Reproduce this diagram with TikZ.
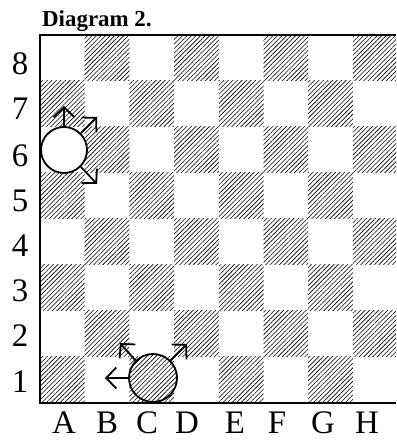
\documentclass[tikz,border=0pt]{standalone}
\usepackage{fontspec}
\setmainfont{Liberation Serif}
\usetikzlibrary{patterns.meta,arrows.meta}
\begin{document}
\begin{tikzpicture}[x=1bp,y=1bp,
  hatch/.style={pattern={Lines[angle=45,distance=3.2bp,line width=0.6bp]}},
  piece/.style={circle,draw,line width=1.8bp,minimum size=46bp,inner sep=0pt,fill=white},
  bpiece/.style={circle,draw,line width=1.8bp,minimum size=48bp,inner sep=0pt,preaction={fill=white},hatch},
  mv/.style={line width=1.8bp,-{Straight Barb[length=10bp,width=21bp,line width=1.8bp]}},
  lab/.style={font=\fontsize{33}{33}\selectfont,anchor=base,inner sep=0pt}]
\useasboundingbox (0,0) rectangle (396,440);
\begin{scope}
\clip (0,0) rectangle (396,440);
\foreach \c in {0,...,7}{\foreach \r in {1,...,8}{
  \pgfmathtruncatemacro\s{mod(\c+\r,2)}
  \ifnum\s=1 \fill[hatch] ({40+\c*44.7},{37+(\r-1)*46}) rectangle ++(44.7,46);\fi
}}
\end{scope}
% pieces
\node[piece] (w) at (64,290) {};
\node[bpiece] (b) at (153,62) {};
\coordinate (w1) at (64,334);
\coordinate (w2) at (97,323);
\coordinate (w3) at (97,256);
\coordinate (b1) at (105,62);
\coordinate (b2) at (120,97);
\coordinate (b3) at (187,96);
\draw[mv] (w.north) -- (w1);
\draw[mv] (w.45) -- (w2);
\draw[mv] (w.-45) -- (w3);
\draw[mv] (b.west) -- (b1);
\draw[mv] (b.135) -- (b2);
\draw[mv] (b.45) -- (b3);
% border
\draw[line width=1.4bp] (396,405) -- (40,405) -- (40,37) -- (396,37);
% title
\node[anchor=base west,inner sep=0pt,font=\bfseries\fontsize{23}{23}\selectfont] (title) at (42,413) {Diagram 2.};
% row labels
\foreach \n/\yy in {8/365,7/320,6/273,5/228,4/183,3/138,2/93,1/47}
  \node[lab] (r\n) at (20,\yy) {\n};
% column labels
\foreach \l/\xx in {A/64,B/107,C/147,D/187,E/235,F/277,G/323,H/367}
  \node[lab] (c\l) at (\xx,6) {\l};
\end{tikzpicture}
\end{document}
